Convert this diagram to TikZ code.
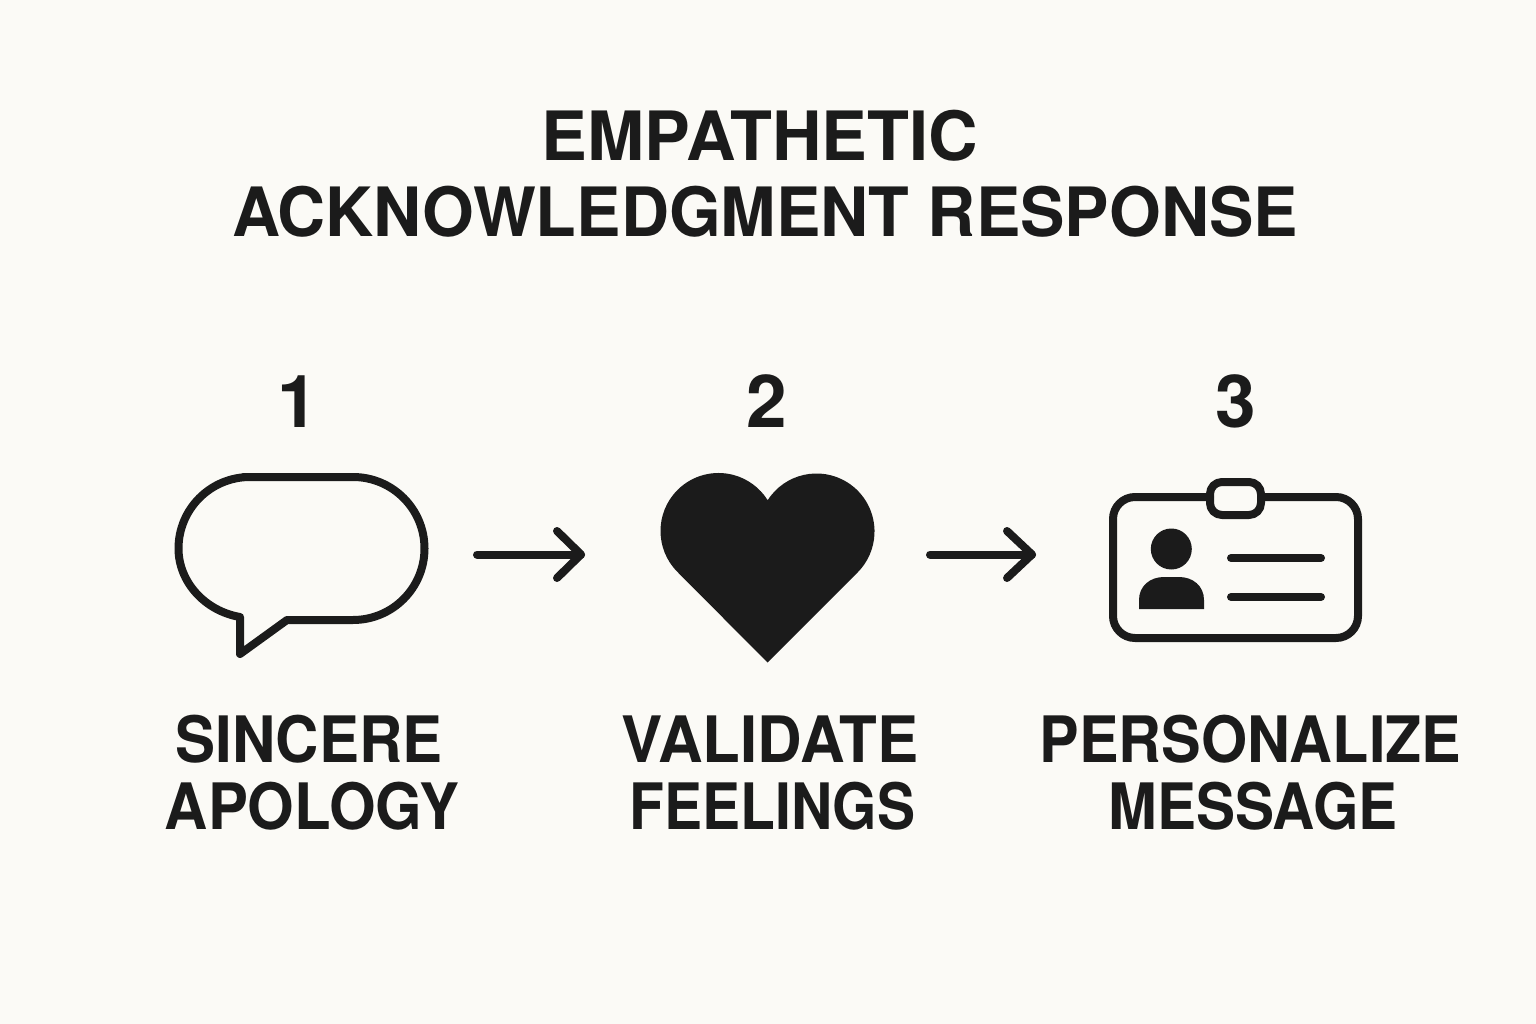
\documentclass[tikz,border=0pt]{standalone}
\usepackage{fontspec}
\setmainfont{TeX Gyre Heros}
\definecolor{bg}{HTML}{FBFAF6}
\definecolor{ink}{HTML}{1B1B1B}
\newcommand{\stfont}[2]{\fontspec[FakeStretch=#2]{TeX Gyre Heros}\fontsize{#1}{#1}\selectfont\bfseries}
\begin{document}
\begin{tikzpicture}[x=1pt,y=-1pt,
 txt/.style={text=ink,inner sep=0pt,anchor=base},
 icon/.style={draw=ink,line width=8pt,line join=round,line cap=round},
 thin/.style={draw=ink,line width=8pt,line cap=round,line join=round}]
\fill[bg] (0,0) rectangle (1536,1024);
\useasboundingbox (0,0) rectangle (1536,1024);
\node[txt,font=\stfont{68}{1.009}] (t1) at (760,161) {EMPATHETIC};
\node[txt,font=\stfont{68}{0.979}] (t2) at (765,237) {ACKNOWLEDGMENT RESPONSE};
\node[txt,font=\stfont{73}{1}] (n1) at (298,427) {1};
\node[txt,font=\stfont{73}{1}] (n2) at (767,427) {2};
\node[txt,font=\stfont{73}{1}] (n3) at (1236,427) {3};
\node[txt,font=\stfont{64}{0.937}] (a1) at (309,762) {SINCERE};
\node[txt,font=\stfont{64}{0.936}] (a2) at (312,829) {APOLOGY};
\node[txt,font=\stfont{64}{0.965}] (b1) at (770,762) {VALIDATE};
\node[txt,font=\stfont{64}{0.891}] (b2) at (772.5,829) {FEELINGS};
\node[txt,font=\stfont{64}{0.927}] (c1) at (1250.5,762) {PERSONALIZE};
\node[txt,font=\stfont{64}{0.914}] (c2) at (1253,829) {MESSAGE};
% speech bubble
\draw[icon] (243,477) -- (353,477) arc[start angle=-90,end angle=90,radius=71.5] -- (287,620) -- (240,654) -- (240,617)
  .. controls (205,611) and (178.5,582) .. (178.5,548.5) arc[start angle=180,end angle=270,radius=71.5] -- cycle;
% arrows
\coordinate (ar1s) at (477,554.5); \coordinate (ar1e) at (581,554.5);
\draw[thin] (ar1s) -- (ar1e); \draw[thin] (557,531) -- (ar1e) -- (557,578);
% heart
\fill[ink] (767.5,662.5) -- (677.5,572) arc[start angle=135,end angle=327.7,radius=58] -- (767.5,500.5) arc[start angle=212.3,end angle=405,radius=58] -- cycle;
\coordinate (ar2s) at (930,554.5); \coordinate (ar2e) at (1032,554.5);
\draw[thin] (ar2s) -- (ar2e); \draw[thin] (1007,531) -- (ar2e) -- (1007,578);
% id card
\draw[icon] (1210,497) -- (1135,497) arc[start angle=-90,end angle=-180,radius=22] -- (1113,616) arc[start angle=180,end angle=90,radius=22] -- (1336,638) arc[start angle=90,end angle=0,radius=22] -- (1358,519) arc[start angle=0,end angle=-90,radius=22] -- (1261,497);
\draw[icon,rounded corners=12pt] (1210,482) rectangle (1261,515);
\fill[ink] (1171.3,549) circle[radius=20.5];
\fill[ink] (1139,609) -- (1139,600) .. controls (1139,586) and (1150,577) .. (1164,577) -- (1179,577) .. controls (1193,577) and (1204,586) .. (1204,600) -- (1204,609) -- cycle;
\draw[thin] (1231,558) -- (1321,558);
\draw[thin] (1231,597) -- (1321,597);
\end{tikzpicture}
\end{document}
